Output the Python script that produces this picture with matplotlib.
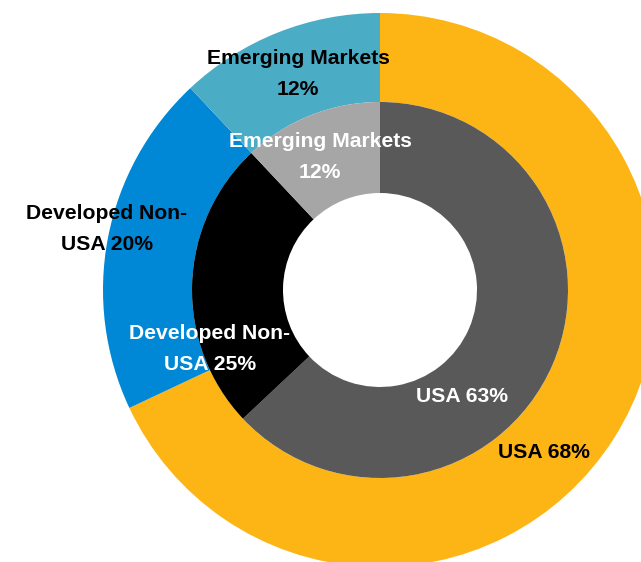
import matplotlib
matplotlib.use("Agg")
import matplotlib.pyplot as plt

categories = ["USA", "Developed Non-USA", "Emerging Markets"]
outer_values = [68, 20, 12]
inner_values = [63, 25, 12]
outer_labels = ["USA 68%", "Developed Non-\nUSA 20%", "Emerging Markets\n12%"]
inner_labels = ["USA 63%", "Developed Non-\nUSA 25%", "Emerging Markets\n12%"]
outer_colors = ["#FDB515", "#0088D6", "#4BACC6"]
inner_colors = ["#595959", "#000000", "#A6A6A6"]

W, H = 641, 562
fig = plt.figure(figsize=(W / 100, H / 100), dpi=100)
ax = fig.add_axes([0, 0, 1, 1])

cx, cy = 380, H - 290
r_out, r_mid, r_in = 277, 188, 97

ax.pie(outer_values, colors=outer_colors, startangle=90, counterclock=False,
       radius=r_out, center=(cx, cy), frame=True,
       wedgeprops=dict(width=r_out - r_mid, linewidth=0))
ax.pie(inner_values, colors=inner_colors, startangle=90, counterclock=False,
       radius=r_mid, center=(cx, cy), frame=True,
       wedgeprops=dict(width=r_mid - r_in, linewidth=0))
ax.set_xlim(0, W)
ax.set_ylim(0, H)
ax.set_aspect("equal")
ax.axis("off")

font = dict(family=["Liberation Sans", "DejaVu Sans"], fontweight="bold", fontsize=15.2,
            ha="center", va="center", linespacing=1.75)

# label positions (pixel space, y from top)
outer_pos = [(544, 453), (107, 229), (298, 74)]
inner_pos = [(462, 396), (210, 349), (320, 157)]
for lab, (x, y) in zip(outer_labels, outer_pos):
    ax.text(x, H - y, lab, color="black", **font)
for lab, (x, y) in zip(inner_labels, inner_pos):
    ax.text(x, H - y, lab, color="white", **font)

fig.savefig("out.png", dpi=100)
